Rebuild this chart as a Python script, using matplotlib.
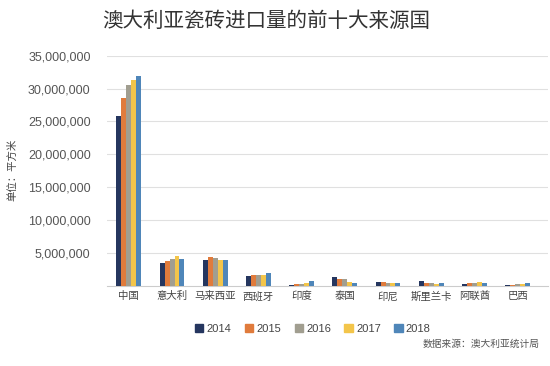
import numpy as np
import matplotlib
matplotlib.use("Agg")
import matplotlib.pyplot as plt
from matplotlib.patches import Patch
from matplotlib.ticker import FuncFormatter

plt.rcParams['font.family'] = ['Liberation Sans', 'Noto Sans CJK SC', 'DejaVu Sans']

# data (square metres)
countries = ['中国', '意大利', '马来西亚', '西班牙', '印度', '泰国', '印尼', '斯里兰卡', '阿联酋', '巴西']
years = ['2014', '2015', '2016', '2017', '2018']
v2014 = [25800000, 3400000, 3900000, 1450000, 200000, 1400000, 600000, 700000, 300000, 200000]
v2015 = [28600000, 3800000, 4400000, 1600000, 300000, 1100000, 600000, 500000, 500000, 200000]
v2016 = [30600000, 4100000, 4200000, 1600000, 300000, 1100000, 500000, 400000, 500000, 300000]
v2017 = [31300000, 4600000, 4000000, 1600000, 400000, 600000, 400000, 300000, 600000, 300000]
v2018 = [31900000, 4100000, 3900000, 1900000, 700000, 500000, 500000, 400000, 400000, 400000]
yticks = [5000000, 10000000, 15000000, 20000000, 25000000, 30000000, 35000000]

colors = ['#25365f', '#e07b3c', '#a19e90', '#f3c54a', '#4f86b9']
series = [v2014, v2015, v2016, v2017, v2018]

fig = plt.figure(figsize=(5.5, 3.66), dpi=100)
ax = fig.add_axes([0.195, 0.219, 0.801, 0.629])

x = np.arange(len(countries))
w = 0.115
for i, vals in enumerate(series):
    ax.bar(x + (i - 2) * w, vals, width=w, color=colors[i], zorder=3)

ax.set_xlim(-0.5, 9.7)
ax.set_ylim(0, 35000000)
ax.set_yticks(yticks)
ax.yaxis.set_major_formatter(FuncFormatter(lambda v, p: f'{int(v):,}'))
ax.set_xticks(x)
ax.set_xticklabels(countries, fontsize=7.5, color='#444444')
ax.tick_params(axis='y', labelsize=9, colors='#555555', length=0, pad=12)
ax.tick_params(axis='x', length=0, pad=4)
ax.grid(axis='y', color='#e0e0e0', linewidth=0.8, zorder=0)
for s in ['top', 'right', 'left']:
    ax.spines[s].set_visible(False)
ax.spines['bottom'].set_color('#cccccc')

fig.text(0.484, 0.942, '澳大利亚瓷砖进口量的前十大来源国', ha='center', va='center',
         fontsize=14.8, color='#333333')
fig.text(0.022, 0.535, '单位：平方米', rotation=90, ha='center', va='center',
         fontsize=7.5, color='#444444')
fig.text(0.982, 0.06, '数据来源：澳大利亚统计局', ha='right', va='center',
         fontsize=7, color='#555555')

handles = [Patch(color=c, label=y) for c, y in zip(colors, years)]
fig.legend(handles=handles, loc='center', bbox_to_anchor=(0.569, 0.101), ncol=5,
           frameon=False, fontsize=8, handlelength=0.75, handleheight=0.75,
           handletextpad=0.3, columnspacing=1.2, labelcolor='#444444')

fig.savefig('out.png', dpi=100, facecolor='white')
